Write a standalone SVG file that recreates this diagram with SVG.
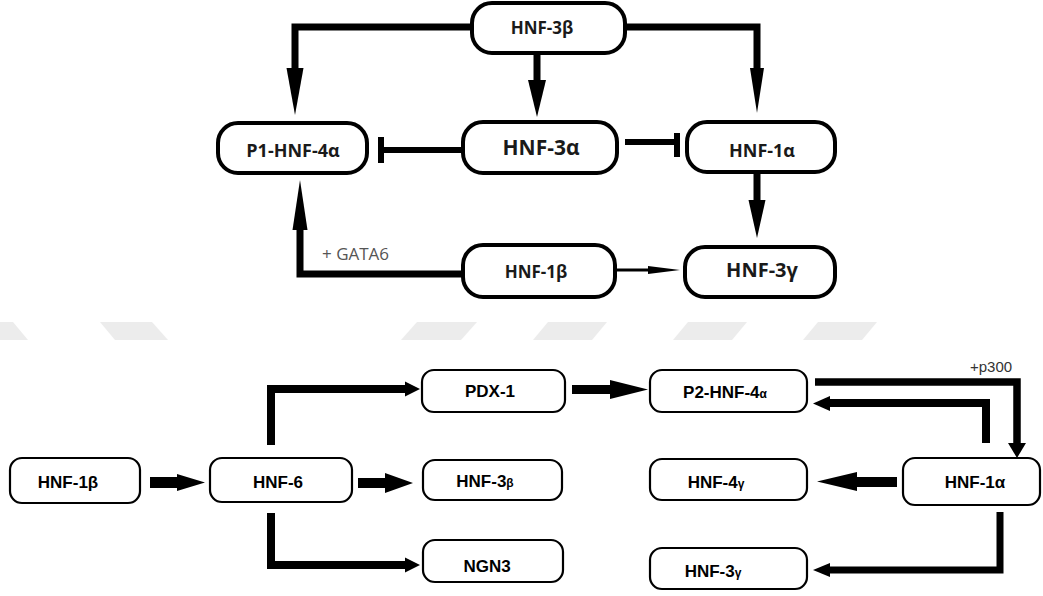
<svg xmlns="http://www.w3.org/2000/svg" width="1043" height="596" viewBox="0 0 1043 596">
<style>
.bg{fill:#ffffff}
.wm{fill:#ececec}
.tbox{fill:#ffffff;stroke:#000;stroke-width:4}
.bbox{fill:#ffffff;stroke:#000;stroke-width:2.2}
.tt{font-family:"Open Sans","DejaVu Sans",sans-serif;font-weight:bold;fill:#1a1a1a;text-anchor:middle}
.bt{font-family:"Liberation Sans",Arial,sans-serif;font-weight:bold;font-size:17px;fill:#000;text-anchor:middle}
.ln{fill:none;stroke:#000;stroke-linejoin:miter;stroke-linecap:butt}
.head{fill:#000}
.lbl{font-family:"Open Sans","DejaVu Sans",sans-serif;font-size:17px;fill:#555}
.lbl2{font-family:"Liberation Sans",Arial,sans-serif;font-size:15px;fill:#333}
</style>
<rect class="bg" x="0" y="0" width="1043" height="596"/>
<g id="watermark">
<polygon class="wm" points="0,322 13,322 28,340 0,340"/>
<polygon class="wm" points="100,322 152,322 168,340 115,340"/>
<polygon class="wm" points="417,322 477,322 461,340 401,340"/>
<polygon class="wm" points="548,322 607,322 592,340 533,340"/>
<polygon class="wm" points="688,322 747,322 732,340 673,340"/>
<polygon class="wm" points="818,322 877,322 862,340 803,340"/>
</g>
<g id="connectors">
<!-- top diagram -->
<path class="ln" stroke-width="7" d="M470,27 H295 V68"/>
<polygon class="head" points="286.5,68 303.5,68 295,115"/>
<path class="ln" stroke-width="7" d="M537,55 V80"/>
<polygon class="head" points="528,80 546,80 537,117"/>
<path class="ln" stroke-width="7" d="M627,27 H757 V68"/>
<polygon class="head" points="750,68 764,68 757,113"/>
<path class="ln" stroke-width="6" d="M461,150 H383"/>
<path class="ln" stroke-width="6" d="M381,137 V163"/>
<path class="ln" stroke-width="6" d="M625,142 H675"/>
<path class="ln" stroke-width="6" d="M677,133 V157"/>
<path class="ln" stroke-width="7" d="M757,174 V200"/>
<polygon class="head" points="748.5,200 765.5,200 757,238"/>
<path class="ln" stroke-width="3" d="M617,270 H648"/>
<polygon class="head" points="648,266 648,274 680,270"/>
<path class="ln" stroke-width="7" d="M461,274 H300 V230"/>
<polygon class="head" points="292.5,230 307.5,230 300,180"/>
<text class="lbl" x="322" y="260">+ GATA6</text>
<!-- bottom diagram -->
<polygon class="head" points="150,477 177,477 177,474 205,482.5 177,491 177,488 150,488"/>
<polygon class="head" points="358,478 385,478 385,473 413,483 385,493 385,488 358,488"/>
<polygon class="head" points="572,385 610,385 610,380 648,389.5 610,399 610,394 572,394"/>
<polygon class="head" points="897,477 857,477 857,472 817,481.5 857,491 857,487 897,487"/>
<path class="ln" stroke-width="8" d="M271,445 V389 H406"/>
<polygon class="head" points="405,381.5 420,389 405,396.5"/>
<path class="ln" stroke-width="8" d="M271,513 V565 H406"/>
<polygon class="head" points="405,557.5 420,565 405,572.5"/>
<path class="ln" stroke-width="7.5" d="M815,382 H1017 V444"/>
<polygon class="head" points="1008,443 1026,443 1017,458"/>
<path class="ln" stroke-width="8" d="M986,443 V403 H829"/>
<polygon class="head" points="830,396 813,403.5 830,411"/>
<path class="ln" stroke-width="7" d="M1000,512 V570 H829"/>
<polygon class="head" points="830,563 813,570 830,577"/>
<text class="lbl2" x="970" y="372">+p300</text>
</g>
<g id="n-top-hnf3b"><rect class="tbox" x="472" y="3" width="153" height="50" rx="20"/><text class="tt" x="542" y="34" font-size="17">HNF-3β</text></g>
<g id="n-top-p1hnf4a"><rect class="tbox" x="218" y="123" width="149" height="50" rx="20"/><text class="tt" x="293" y="157" font-size="18">P1-HNF-4α</text></g>
<g id="n-top-hnf3a"><rect class="tbox" x="463" y="122" width="154" height="51" rx="20"/><text class="tt" x="541" y="155" font-size="21">HNF-3α</text></g>
<g id="n-top-hnf1a"><rect class="tbox" x="687" y="122" width="148" height="50" rx="20"/><text class="tt" x="762" y="157" font-size="18">HNF-1α</text></g>
<g id="n-top-hnf1b"><rect class="tbox" x="463" y="245" width="152" height="52" rx="20"/><text class="tt" x="536" y="278" font-size="17">HNF-1β</text></g>
<g id="n-top-hnf3g"><rect class="tbox" x="685" y="247" width="150" height="50" rx="20"/><text class="tt" x="762" y="277" font-size="20">HNF-3γ</text></g>
<g id="n-hnf1b"><rect class="bbox" x="10" y="458" width="130" height="45" rx="12"/><text class="bt" x="68" y="488">HNF-1β</text></g>
<g id="n-hnf6"><rect class="bbox" x="210" y="458" width="142" height="44" rx="12"/><text class="bt" x="278" y="488">HNF-6</text></g>
<g id="n-pdx1"><rect class="bbox" x="422" y="370" width="143" height="42" rx="12"/><text class="bt" x="490" y="397">PDX-1</text></g>
<g id="n-hnf3b"><rect class="bbox" x="423" y="460" width="139" height="40" rx="12"/><text class="bt" x="485" y="487">HNF-3<tspan font-size="12">β</tspan></text></g>
<g id="n-ngn3"><rect class="bbox" x="423" y="540" width="140" height="42" rx="12"/><text class="bt" x="487" y="572">NGN3</text></g>
<g id="n-p2hnf4a"><rect class="bbox" x="650" y="370" width="157" height="42" rx="12"/><text class="bt" x="725" y="398">P2-HNF-4<tspan font-size="12">α</tspan></text></g>
<g id="n-hnf4g"><rect class="bbox" x="650" y="459" width="157" height="41" rx="12"/><text class="bt" x="716" y="488">HNF-4<tspan font-size="12">γ</tspan></text></g>
<g id="n-hnf3g"><rect class="bbox" x="650" y="548" width="157" height="41" rx="12"/><text class="bt" x="713" y="577">HNF-3<tspan font-size="12">γ</tspan></text></g>
<g id="n-hnf1a"><rect class="bbox" x="903" y="458" width="137" height="47" rx="12"/><text class="bt" x="975" y="488">HNF-1α</text></g>
</svg>
